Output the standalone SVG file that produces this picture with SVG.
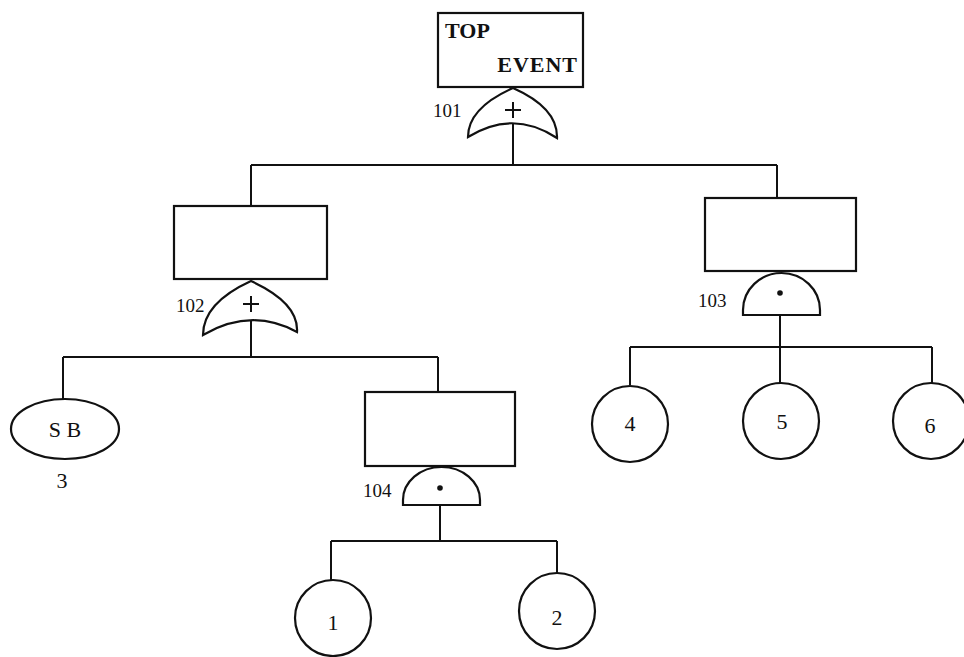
<svg xmlns="http://www.w3.org/2000/svg" width="964" height="657" viewBox="0 0 964 657">
<style>
.s{fill:#fff;stroke:#111;stroke-width:2.2}
.l{fill:none;stroke:#111;stroke-width:2}
.t{font-family:"Liberation Serif","DejaVu Serif",serif;font-size:22px;fill:#111}
.lab{font-family:"Liberation Serif","DejaVu Serif",serif;font-size:19px;fill:#111}
</style>
<rect width="964" height="657" fill="#fff"/>
<g id="connectors" class="l">
<path d="M513,123 V165 M251,165 H777 M251,165 V206 M777,165 V198"/>
<path d="M251,320 V357 M63,357 H438 M63,357 V400 M438,357 V392"/>
<path d="M780,315 V347 M630,347 H932 M630,347 V385 M780,347 V383 M932,347 V383"/>
<path d="M440,505 V541 M331,541 H557 M331,541 V581 M557,541 V573"/>
</g>
<g id="top">
<rect class="s" x="438" y="13" width="145" height="74"/>
<text class="t" x="445" y="38" font-weight="bold">TOP</text>
<text class="t" x="578" y="72" text-anchor="end" font-weight="bold" letter-spacing="1">EVENT</text>
</g>
<g id="g101">
<path class="s" d="M513,88 Q468,108 468,137 Q513,109 557,138 Q558,108 513,88 Z"/>
<path class="l" d="M505,110 H521 M513,102 V118"/>
<text class="lab" x="433" y="117">101</text>
</g>
<g id="e102">
<rect class="s" x="174" y="206" width="153" height="73"/>
</g>
<g id="g102">
<path class="s" d="M251,281 Q203,303 203,335 Q251,307 297,332 Q299,303 251,281 Z"/>
<path class="l" d="M243,304 H259 M251,296 V312"/>
<text class="lab" x="176" y="312">102</text>
</g>
<g id="e103">
<rect class="s" x="705" y="198" width="151" height="73"/>
</g>
<g id="g103">
<path class="s" d="M743,315 V310 A38.5,37 0 0 1 820,310 V315 Z"/>
<circle cx="780" cy="293" r="2.8" fill="#111"/>
<text class="lab" x="698" y="307">103</text>
</g>
<g id="e3">
<ellipse class="s" cx="65" cy="429" rx="54" ry="30"/>
<text class="t" x="65" y="437" text-anchor="middle" font-size="20">S B</text>
<text class="t" x="62" y="488" text-anchor="middle" font-size="20">3</text>
</g>
<g id="e104">
<rect class="s" x="365" y="392" width="150" height="74"/>
</g>
<g id="g104">
<path class="s" d="M403,505 V500 A38.5,33 0 0 1 480,500 V505 Z"/>
<circle cx="440" cy="488" r="2.8" fill="#111"/>
<text class="lab" x="363" y="497">104</text>
</g>
<g id="e1">
<circle class="s" cx="333" cy="618" r="38"/>
<text class="t" x="333" y="630" text-anchor="middle">1</text>
</g>
<g id="e2">
<circle class="s" cx="557" cy="611" r="38"/>
<text class="t" x="557" y="625" text-anchor="middle">2</text>
</g>
<g id="e4">
<circle class="s" cx="630" cy="424" r="38"/>
<text class="t" x="630" y="431" text-anchor="middle">4</text>
</g>
<g id="e5">
<circle class="s" cx="781" cy="421" r="38"/>
<text class="t" x="782" y="429" text-anchor="middle">5</text>
</g>
<g id="e6">
<circle class="s" cx="931" cy="421" r="38"/>
<text class="t" x="930" y="433" text-anchor="middle">6</text>
</g>
</svg>
